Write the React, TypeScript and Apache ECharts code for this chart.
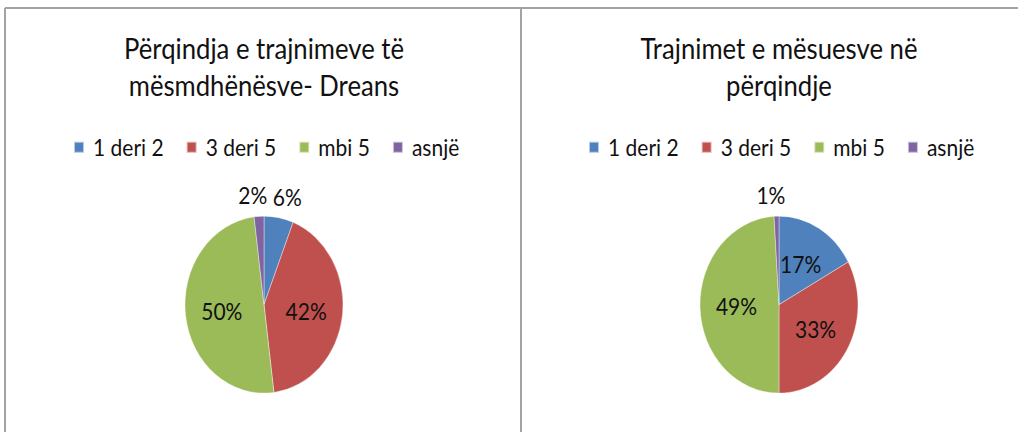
import React, { useEffect, useRef } from "react";
import * as echarts from "echarts";

const categories = ["1 deri 2", "3 deri 5", "mbi 5", "asnjë"];
const dreansValues = [6, 42, 50, 2];
const teacherValues = [17, 33, 49, 1];
const sliceColors = ["#4F81BD", "#C0504D", "#9BBB59", "#8064A2"];
const chartTitles = [
  "Përqindja e trajnimeve të\nmësmdhënësve- Dreans",
  "Trajnimet e mësuesve në\npërqindje",
];

const W = 1018;
const H = 432;
const SY = 1.12; // vertical stretch of the reference picture
const IH = H / SY;
const FONT = "Lato, 'Noto Sans', sans-serif";

const centersX = [264, 779];
const legendLeft = [73, 588];
const pieCY = 272;
const pieR = 79;

function buildPieData(values: number[]) {
  return categories.map((name, i) => {
    const outside = values[i] < 10;
    return {
      name,
      value: values[i],
      itemStyle: { color: sliceColors[i] },
      label: {
        position: outside ? "outside" : "inside",
      },
      labelLine: { show: false, length: 19, length2: 0 },
    };
  });
}

export default function App() {
  const ref = useRef<HTMLDivElement>(null);

  useEffect(() => {
    if (!ref.current) return;
    const chart = echarts.init(ref.current, null, { renderer: "svg" });
    const allValues = [dreansValues, teacherValues];
    chart.setOption({
      animation: false,
      backgroundColor: "#ffffff",
      title: chartTitles.map((t, i) => ({
        text: t,
        left: centersX[i],
        top: 26,
        textAlign: "center",
        padding: 0,
        textStyle: {
          fontFamily: FONT,
          fontSize: 25.7,
          fontWeight: "normal",
          color: "#111",
          lineHeight: 33,
        },
      })),
      legend: allValues.map((_, i) => ({
        data: categories,
        left: legendLeft[i],
        top: 121,
        orient: "horizontal",
        icon: "rect",
        itemWidth: 10,
        itemHeight: 10,
        itemGap: 22,
        padding: 0,
        selectedMode: false,
        textStyle: {
          fontFamily: FONT,
          fontSize: 21,
          color: "#111",
          padding: [0, 0, 0, 4],
        },
      })),
      graphic: [
        {
          type: "line",
          shape: { x1: 5, y1: 8 / SY, x2: W, y2: 8 / SY },
          style: { stroke: "#a3a3a3", lineWidth: 2 / SY },
        },
        {
          type: "line",
          shape: { x1: 5, y1: 8 / SY, x2: 5, y2: IH },
          style: { stroke: "#a3a3a3", lineWidth: 2 },
        },
        {
          type: "line",
          shape: { x1: 521, y1: 8 / SY, x2: 521, y2: IH },
          style: { stroke: "#a3a3a3", lineWidth: 2 },
        },
      ],
      series: allValues.map((vals, i) => ({
        type: "pie",
        center: [centersX[i], pieCY],
        radius: pieR,
        startAngle: 90,
        clockwise: true,
        avoidLabelOverlap: false,
        data: buildPieData(vals),
        itemStyle: { borderColor: "rgba(255,255,255,0.6)", borderWidth: 0.6 },
        label: {
          show: true,
          formatter: "{c}%",
          fontFamily: FONT,
          fontSize: 21,
          color: "#111",
        },
        labelLayout: () => ({ align: "center" }),
        emphasis: { disabled: true },
      })),
    });
    return () => chart.dispose();
  }, []);

  return (
    <div
      style={{
        position: "absolute",
        left: 0,
        top: 0,
        width: W,
        height: H,
        overflow: "hidden",
        background: "#fff",
      }}
    >
      <div
        ref={ref}
        style={{
          width: W,
          height: IH,
          transform: `scaleY(${SY})`,
          transformOrigin: "0 0",
        }}
      />
    </div>
  );
}
